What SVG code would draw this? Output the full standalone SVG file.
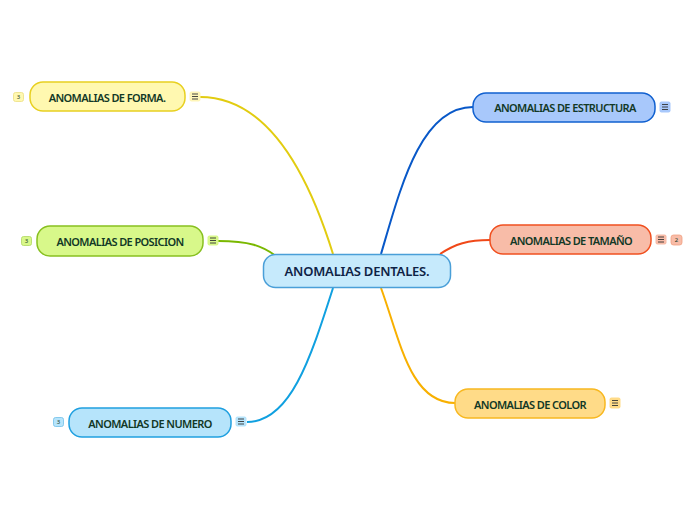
<svg xmlns="http://www.w3.org/2000/svg" width="696" height="520" viewBox="0 0 696 520">
<style>
text{font-family:"Noto Sans","Open Sans",sans-serif;fill:#123826;text-anchor:middle;dominant-baseline:central}
.t{font-size:11px;font-weight:600;letter-spacing:-0.6px}
.c{font-size:13px;font-weight:600;fill:#0e2244;letter-spacing:-0.2px}
.b{font-size:6px}
.n{stroke-width:1.5}
.e{fill:none;stroke-width:2}
.m{stroke:#333;stroke-width:0.9}
</style>
<rect width="696" height="520" fill="#fff"/>
<g id="connectors">
<path class="e" stroke="#e2cc10" d="M200 97 C270 97 310 180 333 254"/>
<path class="e" stroke="#7ab800" d="M218 241 C250 241 262 246 276 256"/>
<path class="e" stroke="#10a0e0" d="M247 422 C290 422 310 360 333 288"/>
<path class="e" stroke="#0858c8" d="M381 254 C400 190 420 107 473 107"/>
<path class="e" stroke="#f04818" d="M440 254 C455 244 468 240 490 240"/>
<path class="e" stroke="#f8b000" d="M381 288 C400 340 410 403 455 403"/>
</g>
<g id="central">
<rect class="n" x="263.5" y="254.5" width="187" height="33" rx="12" fill="#c6eafc" stroke="#4a9fd8"/>
<text class="c" x="357" y="271">ANOMALIAS DENTALES.</text>
</g>
<g id="forma">
<rect class="n" x="30" y="82" width="155" height="29" rx="13" fill="#fff8b0" stroke="#e8d020"/>
<text class="t" x="107" y="97">ANOMALIAS DE FORMA.</text>
<rect x="13.5" y="92.5" width="10" height="9" rx="2" fill="#fff8b0" stroke="#ece080" stroke-width="0.8"/>
<text class="b" x="18.5" y="97.3">3</text>
<rect x="189.5" y="91.5" width="11" height="10" rx="2" fill="#fff6b8"/>
<path class="m" d="M192 94h6M192 96.5h6M192 99h6"/>
</g>
<g id="posicion">
<rect class="n" x="37" y="226" width="166" height="30" rx="13" fill="#d8f88a" stroke="#88c020"/>
<text class="t" x="120" y="241">ANOMALIAS DE POSICION</text>
<rect x="21.5" y="236.5" width="10" height="9" rx="2" fill="#d8f88a" stroke="#b0d860" stroke-width="0.8"/>
<text class="b" x="26.5" y="241.3">3</text>
<rect x="207.5" y="235.5" width="11" height="10" rx="2" fill="#d8f88a"/>
<path class="m" d="M210 238h6M210 240.5h6M210 243h6"/>
</g>
<g id="numero">
<rect class="n" x="69" y="408" width="162" height="29" rx="13" fill="#b6e4fb" stroke="#20a0e0"/>
<text class="t" x="150" y="423">ANOMALIAS DE NUMERO</text>
<rect x="53.5" y="417.5" width="10" height="9" rx="2" fill="#b6e4fb" stroke="#70c0e8" stroke-width="0.8"/>
<text class="b" x="58.5" y="422.3">3</text>
<rect x="235.5" y="416.5" width="11" height="10" rx="2" fill="#b6e4fb"/>
<path class="m" d="M238 419h6M238 421.5h6M238 424h6"/>
</g>
<g id="estructura">
<rect class="n" x="473" y="93" width="182" height="29" rx="13" fill="#a8c8fb" stroke="#1060d0"/>
<text class="t" x="565" y="107.5">ANOMALIAS DE ESTRUCTURA</text>
<rect x="659.5" y="101.5" width="11" height="11" rx="2" fill="#a8c8fb"/>
<path class="m" d="M662 104.5h6M662 107h6M662 109.5h6"/>
</g>
<g id="tamano">
<rect class="n" x="490" y="225" width="161" height="29" rx="13" fill="#f8bca8" stroke="#f05020"/>
<text class="t" x="571" y="240">ANOMALIAS DE TAMAÑO</text>
<rect x="655.5" y="234.5" width="11" height="10" rx="2" fill="#f8bca8"/>
<path class="m" d="M658 237h6M658 239.5h6M658 242h6"/>
<rect x="671" y="235" width="11" height="10" rx="2.5" fill="#f8bca8" stroke="#f0a080" stroke-width="0.8"/>
<text class="b" x="676.5" y="240.3">2</text>
</g>
<g id="color">
<rect class="n" x="455" y="389" width="150" height="29" rx="13" fill="#ffdb88" stroke="#f8b820"/>
<text class="t" x="530" y="404">ANOMALIAS DE COLOR</text>
<rect x="609.5" y="397.5" width="11" height="11" rx="2" fill="#ffdb88"/>
<path class="m" d="M612 400.5h6M612 403h6M612 405.5h6"/>
</g>
</svg>
